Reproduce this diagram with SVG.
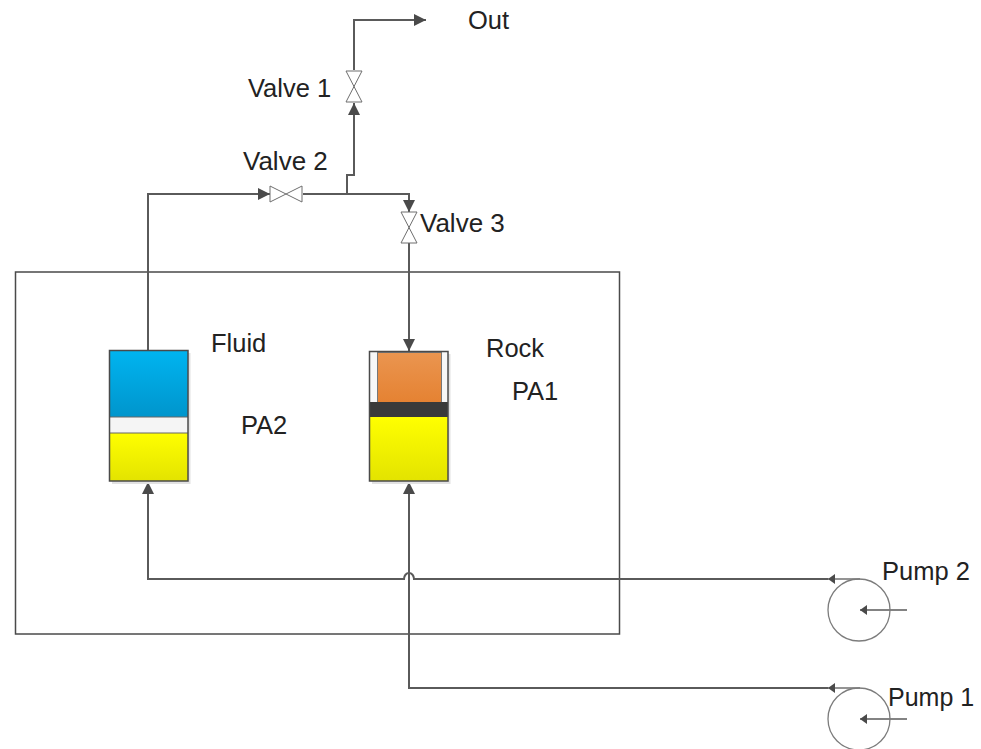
<svg xmlns="http://www.w3.org/2000/svg" width="981" height="749" viewBox="0 0 981 749">
<defs>
<linearGradient id="blue" x1="0" y1="0" x2="0" y2="1"><stop offset="0" stop-color="#00b4f0"/><stop offset="1" stop-color="#0095cc"/></linearGradient>
<linearGradient id="yellow" x1="0" y1="0" x2="0" y2="1"><stop offset="0" stop-color="#ffff00"/><stop offset="1" stop-color="#e3e300"/></linearGradient>
<linearGradient id="orange" x1="0" y1="0" x2="0" y2="1"><stop offset="0" stop-color="#ea9550"/><stop offset="1" stop-color="#e58232"/></linearGradient>
<marker id="arrow" markerUnits="userSpaceOnUse" markerWidth="13" markerHeight="13" refX="12" refY="6" orient="auto"><path d="M0,0 L12,6 L0,12 Z" fill="#4a4a4a"/></marker>
<marker id="arrowS" markerUnits="userSpaceOnUse" markerWidth="8" markerHeight="11" refX="7" refY="5" orient="auto"><path d="M0,0 L7,5 L0,10 Z" fill="#4a4a4a"/></marker>
</defs>
<style>
text{font-family:"Liberation Sans",Arial,sans-serif;font-size:25.5px;fill:#222}
.wide{font-size:26px}
.narrow{font-size:25px}
.pipe{fill:none;stroke:#5a5a5a;stroke-width:2}
.thin{fill:none;stroke:#5a5a5a;stroke-width:1.3}
.valve{fill:#fff;stroke:#6e6e6e;stroke-width:1}
.box{stroke:#4a4a4a;stroke-width:1.5}
.pump{fill:none;stroke:#7c7c7c;stroke-width:1.3}
.shadow{fill:#e2e2e2}
</style>
<g id="enclosure"><rect x="15.500" y="272" width="604" height="362" fill="none" stroke="#4a4a4a" stroke-width="1.500"/></g>
<g id="connectors">
<path class="pipe" d="M148,350 V194 H270" marker-end="url(#arrow)"/>
<path class="pipe" d="M303,194 H409 V212" marker-end="url(#arrow)"/>
<path class="pipe" d="M347,194 V175 H354 V103" marker-end="url(#arrow)"/>
<path class="pipe" d="M354,70 V20 H426" marker-end="url(#arrow)"/>
<path class="pipe" d="M409,243 V351" marker-end="url(#arrow)"/>
<path class="pipe" d="M828,579 H414 A5,6 0 0 0 404,579 H148 V482" marker-end="url(#arrow)"/>
<path class="pipe" d="M828,688 H409 V482" marker-end="url(#arrow)"/>
<path class="thin" d="M860,579 H828" marker-end="url(#arrowS)"/>
<path class="thin" d="M860,688 H828" marker-end="url(#arrowS)"/>
<path class="thin" d="M907,610 H860" marker-end="url(#arrowS)"/>
<path class="thin" d="M907,719 H860" marker-end="url(#arrowS)"/>
</g>
<g id="valve-1"><path class="valve" d="M346,71 H362 L346,102 H362 Z"/><text x="248" y="97">Valve 1</text></g>
<g id="valve-2"><path class="valve" d="M270,186 V202 L302,186 V202 Z"/><text class="wide" x="243" y="170">Valve 2</text></g>
<g id="valve-3"><path class="valve" d="M401,212 H417 L401,243 H417 Z"/><text class="wide" x="420" y="232">Valve 3</text></g>
<g id="out"><text x="468" y="29">Out</text></g>
<g id="pa2">
<rect class="shadow" x="112" y="353" width="78.500" height="131"/>
<rect x="110" y="351" width="78" height="66" fill="url(#blue)"/>
<rect x="110" y="417" width="78" height="16" fill="#f5f5f5"/>
<rect x="110" y="433" width="78" height="48" fill="url(#yellow)"/>
<path d="M110,417 H188 M110,433 H188" stroke="#666" stroke-width="1" fill="none"/>
<rect class="box" x="109.500" y="350.500" width="78.500" height="130.500" fill="none"/>
<text x="211" y="352">Fluid</text>
<text x="241" y="434">PA2</text>
</g>
<g id="pa1">
<rect class="shadow" x="372" y="354" width="78.500" height="130"/>
<rect x="370" y="352" width="78" height="50" fill="#f7f7f7"/>
<rect x="377.500" y="352.500" width="64" height="50" fill="url(#orange)" stroke="#777" stroke-width="1"/>
<rect x="369" y="402" width="79" height="15" fill="#3a3a3a"/>
<rect x="370" y="417" width="78" height="64" fill="url(#yellow)"/>
<rect class="box" x="369.500" y="351.500" width="78.500" height="129.500" fill="none"/>
<text x="486" y="357">Rock</text>
<text x="512" y="400">PA1</text>
</g>
<g id="pump-2"><circle class="pump" cx="859" cy="610" r="31"/><text x="882" y="580">Pump 2</text></g>
<g id="pump-1"><circle class="pump" cx="859" cy="719" r="31"/><text class="narrow" x="888" y="706">Pump 1</text></g>
</svg>
